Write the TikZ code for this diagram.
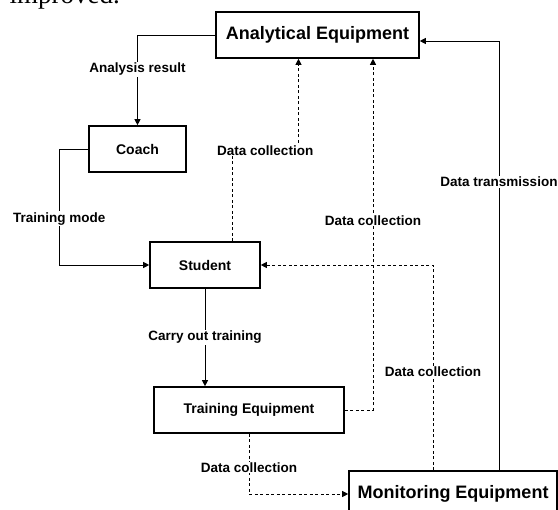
\documentclass[tikz,border=0pt]{standalone}
\usepackage{fontspec}
\setmainfont{Liberation Sans}
\newfontfamily\bodyserif{Liberation Serif}
\usepackage{tikz}
\usetikzlibrary{arrows.meta}

\begin{document}
\begin{tikzpicture}[x=1pt,y=-1pt,
    box/.style={draw,line width=1.6pt,inner sep=0pt,font=\fontsize{14}{16}\selectfont\bfseries},
    bigbox/.style={box,font=\fontsize{18}{20}\selectfont\bfseries},
    lbl/.style={fill=white,inner sep=1pt,font=\fontsize{13.5}{15}\selectfont\bfseries},
    link/.style={line width=0.8pt,-{Triangle[length=6pt,width=6pt]}},
    dlink/.style={link,dash pattern=on 3pt off 2.5pt}]
          \useasboundingbox (0,0) rectangle (558,510);
          \clip (0,0) rectangle (558,510);
          \node[anchor=base west,font=\bodyserif\fontsize{27}{30}\selectfont] (prev) at (6,4) {improved.};
          \node[bigbox,minimum width=203pt,minimum height=46pt] (ana) at (317.5,35) {Analytical Equipment};
          \node[box,minimum width=97pt,minimum height=46pt] (coach) at (137.5,149) {Coach};
          \node[box,minimum width=110pt,minimum height=46pt] (student) at (205,265) {Student};
          \node[box,minimum width=190pt,minimum height=46pt] (train) at (249,410) {Training Equipment};
          \node[bigbox,minimum width=208pt,minimum height=46pt] (mon) at (453,494) {Monitoring Equipment};
          \draw[link] (ana.west) -| node[lbl,pos=0.69]{Analysis result} (coach.north);
          \draw[link] (coach.west) -- ++(-29,0) |- node[lbl,pos=0.3]{Training mode} (student.west);
          \draw[link] (student.south) -- node[lbl]{Carry out training} (student.south |- train.north);
          \draw[dlink] ([xshift=27pt]student.north) -- ++(0,-91) -| node[lbl,pos=0.25]{Data collection} ([xshift=-19pt]ana.south);
          \draw[dlink] (train.east) -| node[lbl,pos=0.77]{Data collection} ([xshift=55.5pt]ana.south);
          \draw[dlink] ([xshift=-20pt]mon.north) |- node[lbl,pos=0.24]{Data collection} (student.east);
          \draw[link] ([xshift=46pt]mon.north) |- node[lbl,pos=0.336]{Data transmission} ([yshift=-6pt]ana.east);
          \draw[dlink] (train.south) |- node[lbl,pos=0.28]{Data collection} (mon.west);
    \end{tikzpicture}
\end{document}
